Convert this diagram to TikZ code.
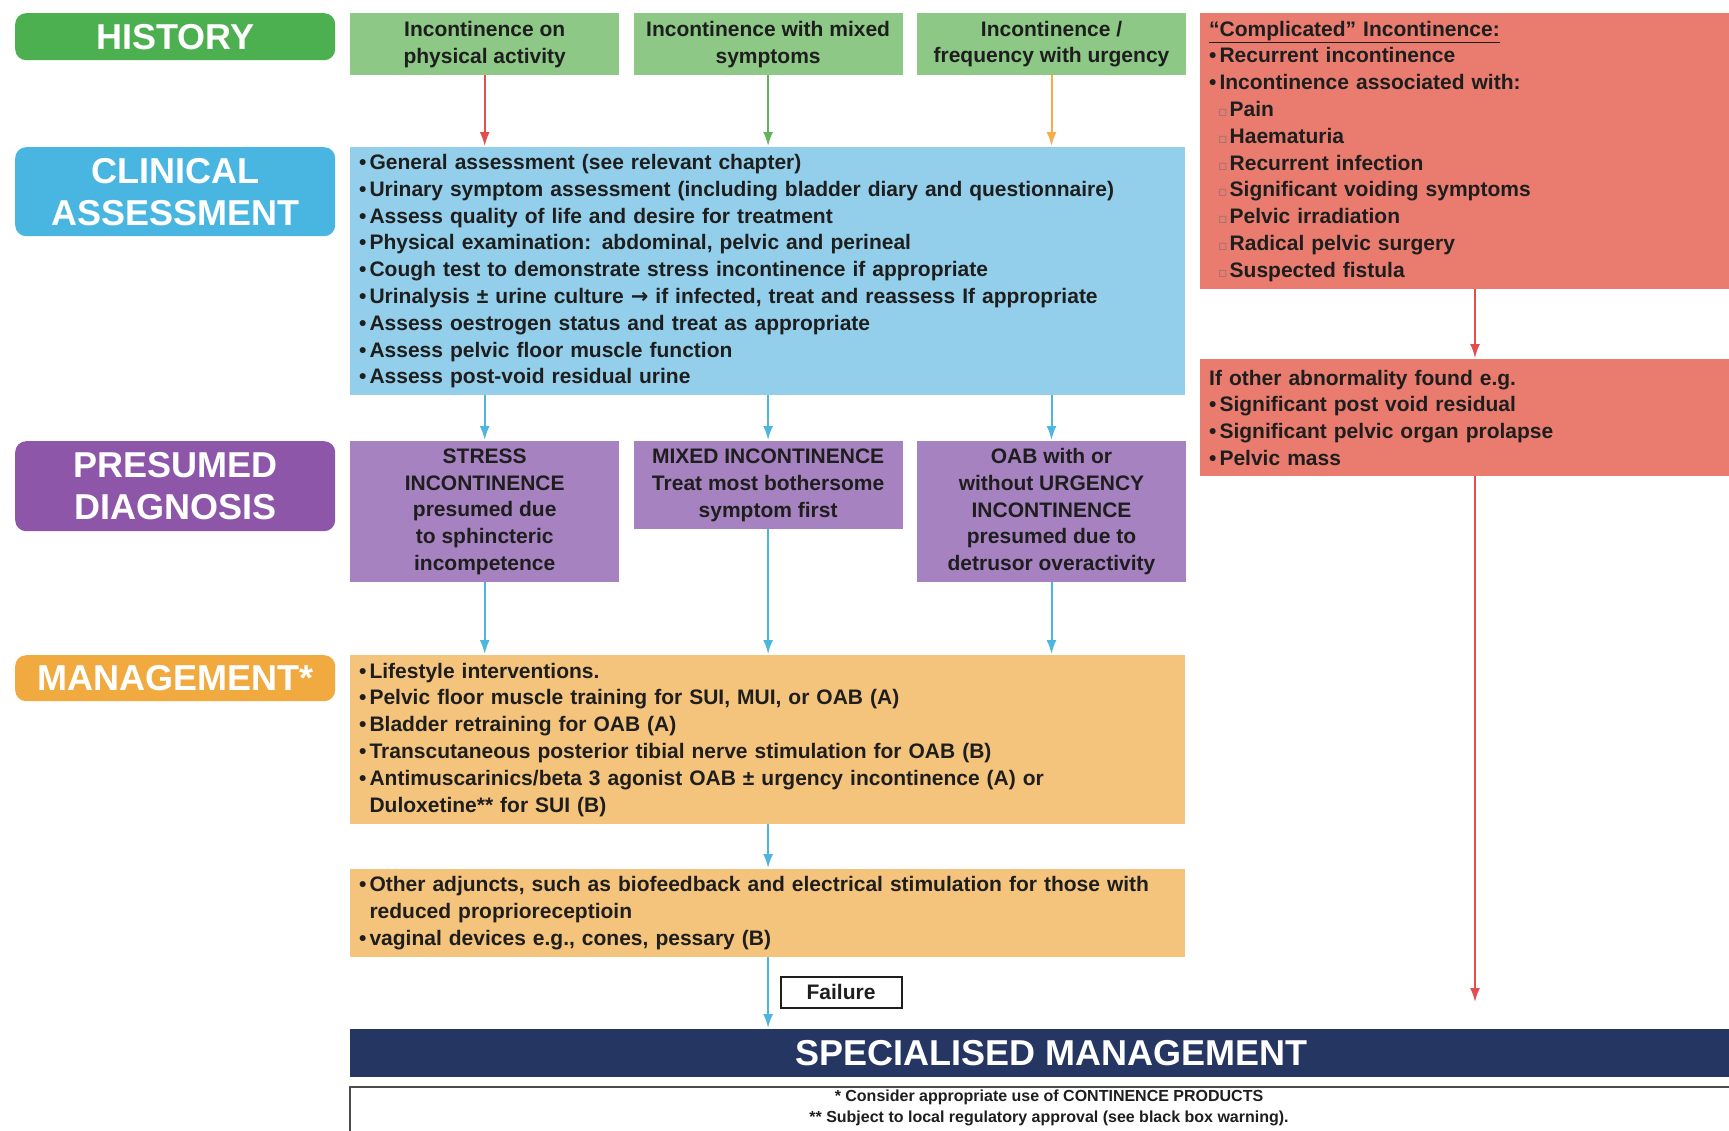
\documentclass[tikz,border=0pt]{standalone}
\usepackage{fontspec}
\setmainfont{Liberation Sans}
\newfontfamily\symfont{DejaVu Sans}
\usetikzlibrary{arrows.meta,positioning}

\definecolor{histdark}{RGB}{76,176,80}
\definecolor{histlight}{RGB}{141,200,134}
\definecolor{clindark}{RGB}{72,182,224}
\definecolor{clinlight}{RGB}{147,207,234}
\definecolor{presdark}{RGB}{142,86,168}
\definecolor{preslight}{RGB}{167,130,193}
\definecolor{mgmtdark}{RGB}{241,170,64}
\definecolor{mgmtlight}{RGB}{244,195,124}
\definecolor{complic}{RGB}{233,124,111}
\definecolor{specnavy}{RGB}{37,54,98}
\definecolor{arrred}{RGB}{225,78,80}
\definecolor{arrgreen}{RGB}{96,180,92}
\definecolor{arrorange}{RGB}{246,172,72}
\definecolor{arrblue}{RGB}{76,182,222}
\definecolor{inkdark}{RGB}{30,30,30}

\newcommand{\bul}{\textbullet\hspace{3pt}}
\newcommand{\ind}{\phantom{\textbullet}\hspace{3pt}}
\newcommand{\subbul}{\hspace*{9pt}{\symfont\fontsize{14}{14}\selectfont\color{complic!45!black!70}▫}\hspace{2pt}}

\begin{document}
\begin{tikzpicture}[x=1pt,y=-1pt,>={Latex[length=14pt,width=10pt]},
  pill/.style={fill=#1,rounded corners=11pt,text=white,anchor=north west,inner sep=0pt,minimum width=320pt,align=center,font=\bfseries\fontsize{36}{42}\selectfont},
  flowbox/.style={fill=#1,anchor=north west,inner sep=0pt,text=inkdark,font=\bfseries\fontsize{21}{26.8}\selectfont},
  listbox/.style={flowbox=#1,inner xsep=9pt,align=left},
  link/.style={->,line width=2pt,shorten >=1pt,color=#1}]
    \useasboundingbox (0,0) rectangle (1729,1130);
    \clip (0,0) rectangle (1729,1130);
    \fill[white] (0,0) rectangle (1729,1130);

    % row headers
    \node[pill=histdark,minimum height=47pt] (hist) at (15,13) {HISTORY};
    \node[pill=clindark,minimum height=89pt] (clinp) at (15,147) {CLINICAL\\ASSESSMENT};
    \node[pill=presdark,minimum height=90pt] (presp) at (15,441) {PRESUMED\\DIAGNOSIS};
    \node[pill=mgmtdark,minimum height=46pt] (mgmtp) at (15,655) {MANAGEMENT*};

    % history
    \node[flowbox=histlight,minimum width=269pt,minimum height=62pt,align=center] (h1) at (350,13) {Incontinence on\\physical activity};
    \node[flowbox=histlight,minimum width=269pt,minimum height=62pt,align=center,right=14pt of h1] (h2) {Incontinence with mixed\\symptoms};
    \node[flowbox=histlight,minimum width=269pt,minimum height=62pt,align=center,right=14pt of h2] (h3) {Incontinence /\\frequency with urgency};

    % clinical assessment
    \node[listbox=clinlight,text width=817pt,minimum height=248pt] (clin) at (350,147) {\bul General assessment (see relevant chapter)\\
      \bul Urinary symptom assessment (including bladder diary and questionnaire)\\
      \bul Assess quality of life and desire for treatment\\
      \bul Physical examination: abdominal, pelvic and perineal\\
      \bul Cough test to demonstrate stress incontinence if appropriate\\
      \bul Urinalysis ± urine culture {\symfont →} if infected, treat and reassess If appropriate\\
      \bul Assess oestrogen status and treat as appropriate\\
      \bul Assess pelvic floor muscle function\\
      \bul Assess post-void residual urine};

    % presumed diagnosis
    \node[flowbox=preslight,minimum width=269pt,minimum height=141pt,align=center] (p1) at (350,441) {STRESS\\INCONTINENCE\\presumed due\\to sphincteric\\incompetence};
    \node[flowbox=preslight,minimum width=269pt,minimum height=88pt,align=center,right=14pt of p1.north east,anchor=north west] (p2) {MIXED INCONTINENCE\\Treat most bothersome\\symptom first};
    \node[flowbox=preslight,minimum width=269pt,minimum height=141pt,align=center,right=14pt of p2.north east,anchor=north west] (p3) {OAB with or\\without URGENCY\\INCONTINENCE\\presumed due to\\detrusor overactivity};

    % management
    \node[listbox=mgmtlight,text width=817pt,minimum height=169pt] (m1) at (350,655) {\bul Lifestyle interventions.\\
      \bul Pelvic floor muscle training for SUI, MUI, or OAB (A)\\
      \bul Bladder retraining for OAB (A)\\
      \bul Transcutaneous posterior tibial nerve stimulation for OAB (B)\\
      \bul Antimuscarinics/beta 3 agonist OAB ± urgency incontinence (A) or\\
      \ind Duloxetine** for SUI (B)};
    \node[listbox=mgmtlight,text width=817pt,minimum height=88pt] (m2) at (350,869) {\bul Other adjuncts, such as biofeedback and electrical stimulation for those with\\
      \ind reduced proprioreceptioin\\
      \bul vaginal devices e.g., cones, pessary (B)};

    % complicated incontinence
    \node[listbox=complic,text width=522pt,minimum height=276pt] (r1) at (1200,13) {\underline{“Complicated” Incontinence:}\\
      \bul Recurrent incontinence\\
      \bul Incontinence associated with:\\
      \subbul Pain\\
      \subbul Haematuria\\
      \subbul Recurrent infection\\
      \subbul Significant voiding symptoms\\
      \subbul Pelvic irradiation\\
      \subbul Radical pelvic surgery\\
      \subbul Suspected fistula};
    \node[listbox=complic,text width=522pt,minimum height=117pt] (r2) at (1200,359) {If other abnormality found e.g.\\
      \bul Significant post void residual\\
      \bul Significant pelvic organ prolapse\\
      \bul Pelvic mass};

    % specialised management and notes
    \node[fill=specnavy,anchor=north west,inner sep=0pt,minimum width=1402pt,minimum height=48pt,text=white,font=\bfseries\fontsize{36}{42}\selectfont] (spec) at (350,1029) {SPECIALISED MANAGEMENT};
    \node[draw=black!70,line width=2pt,fill=white,anchor=north west,inner sep=0pt,minimum width=1420pt,minimum height=80pt] (foot) at (349,1086) {};
    \node[text=inkdark,align=center,font=\bfseries\fontsize{16}{21}\selectfont] (fnote) at (1049,1108) {* Consider appropriate use of CONTINENCE PRODUCTS\\** Subject to local regulatory approval (see black box warning).};
    \node[draw=inkdark,line width=2pt,fill=white,inner sep=0pt,minimum width=121pt,minimum height=31pt,text=inkdark,font=\bfseries\fontsize{21}{26}\selectfont] (fail) at (841,992) {Failure};

    \coordinate (rx) at (1475,0);
    \coordinate (rend) at (1475,1003);

    \path[link=arrred] (h1.south) edge (h1.south |- clin.north);
    \path[link=arrgreen] (h2.south) edge (h2.south |- clin.north);
    \path[link=arrorange] (h3.south) edge (h3.south |- clin.north);
    \path[link=arrblue]
        (p1.north |- clin.south) edge (p1.north)
        (p2.north |- clin.south) edge (p2.north)
        (p3.north |- clin.south) edge (p3.north)
        (p1.south) edge (p1.south |- m1.north)
        (p2.south) edge (p2.south |- m1.north)
        (p3.south) edge (p3.south |- m1.north)
        (m1.south -| p2.south) edge (m2.north -| p2.south)
        (m2.south -| p2.south) edge (spec.north -| p2.south)
        ;
    \path[link=arrred]
        (r1.south -| rx) edge (r2.north -| rx)
        (r2.south -| rx) edge (rend)
        ;
\end{tikzpicture}
\end{document}
